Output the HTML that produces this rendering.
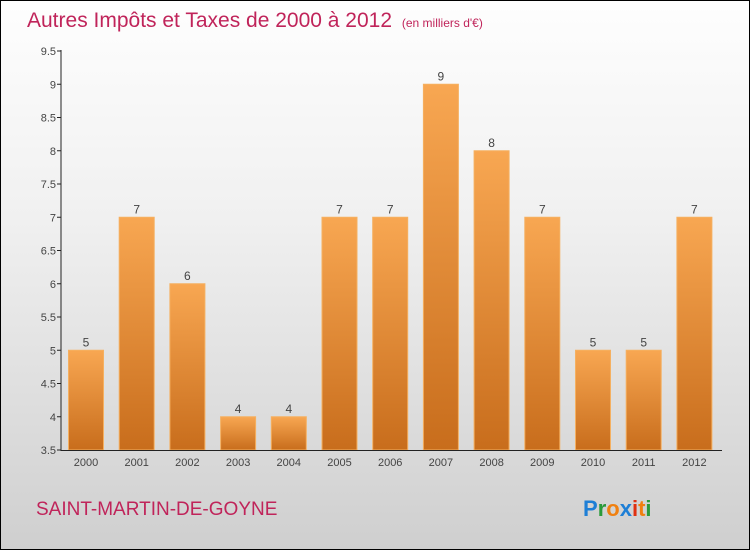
<!DOCTYPE html>
<html><head><meta charset="utf-8"><style>
html,body{margin:0;padding:0}
body{width:750px;height:550px;overflow:hidden;font-family:"Liberation Sans",sans-serif}
#wrap{position:absolute;left:0;top:0;width:748px;height:548px;border:1px solid #000;background:linear-gradient(#fefefe,#f0f0f0 40%,#cfcfcf)}
</style></head><body>
<div id="wrap">
<svg id="chart" width="748" height="548">
<defs><linearGradient id="bg" x1="0" y1="0" x2="0" y2="1"><stop offset="0" stop-color="#f8a752"/><stop offset="1" stop-color="#c86d1c"/></linearGradient></defs>
<text x="26" y="26" font-size="21" fill="#c0245a">Autres Impôts et Taxes de 2000 à 2012 <tspan font-size="12" dx="4">(en milliers d'€)</tspan></text>
<text x="35" y="514" font-size="19" fill="#c0245a">SAINT-MARTIN-DE-GOYNE</text>
<g font-size="22" font-weight="bold">
<text x="582" y="515"><tspan fill="#1e7fd6">P</tspan><tspan fill="#2a9a3a">r</tspan><tspan fill="#f08010">o</tspan><tspan fill="#1e7fd6">x</tspan><tspan fill="#e03010">i</tspan><tspan fill="#f08010">t</tspan><tspan fill="#2a9a3a">i</tspan></text></g>
<g id="plot"></g>
</svg></div>
<script>
const categories=["2000","2001","2002","2003","2004","2005","2006","2007","2008","2009","2010","2011","2012"];
const values=[5,7,6,4,4,7,7,9,8,7,5,5,7];
const yTicks=[3.5,4,4.5,5,5.5,6,6.5,7,7.5,8,8.5,9,9.5];
const yMin=3.5,yMax=9.5;
const NS="http://www.w3.org/2000/svg";
const g=document.getElementById('plot');
function y(v){return 449-(v-yMin)/(yMax-yMin)*399;}
function x(i){return 85+i*50.7;}
function el(t,a){const e=document.createElementNS(NS,t);for(const k in a)e.setAttribute(k,a[k]);g.appendChild(e);return e;}
yTicks.forEach(t=>{
  const l=el('line',{x1:56,x2:60,y1:y(t),y2:y(t),stroke:'#222'});
  
  
  const tx=el('text',{x:55,y:y(t)+4,'font-size':11,'text-anchor':'end',fill:'#444'});
  tx.textContent=t;
  
  
});
values.forEach((v,i)=>{
  const r=el('rect',{x:x(i)-17.5,y:y(v),width:35,height:y(yMin)-y(v),fill:'url(#bg)',stroke:'#f5b060','stroke-width':1});
  
  
  const t=el('text',{x:x(i),y:y(v)-4,'font-size':12,'text-anchor':'middle',fill:'#444'});
  t.textContent=v;
  
  
  const c=el('text',{x:x(i),y:465,'font-size':11,'text-anchor':'middle',fill:'#444'});
  c.textContent=categories[i];
  
  
});
const ya=el('line',{x1:60,x2:60,y1:49,y2:450,stroke:'#222'});


const xa=el('line',{x1:60,x2:721,y1:449.5,y2:449.5,stroke:'#222'});


</script>
</body></html>
